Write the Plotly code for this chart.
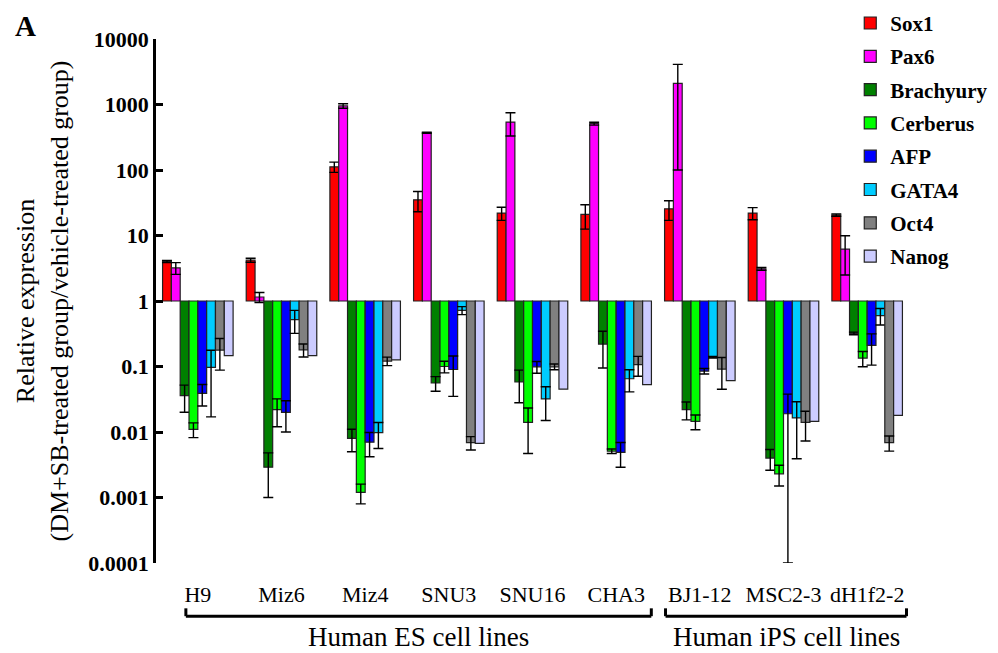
import plotly.graph_objects as go

cell_lines = ["H9", "Miz6", "Miz4", "SNU3", "SNU16", "CHA3", "BJ1-12", "MSC2-3", "dH1f2-2"]
genes = ["Sox1", "Pax6", "Brachyury", "Cerberus", "AFP", "GATA4", "Oct4", "Nanog"]

sox1 = [4.0, 4.2, 112, 35, 22, 21, 25.5, 22, 20.5]
sox1_err = [0.15, 0.3, 20, 12, 5, 8.5, 8.5, 4.6, 0.8]
pax6 = [3.2, 1.15, 950, 370, 540, 510, 2100, 3.1, 6.2]
pax6_err = [0.65, 0.2, 75, 8, 210, 25, 2000, 0.15, 3.7]
brachyury = [0.036, 0.0029, 0.008, 0.056, 0.058, 0.22, 0.022, 0.004, 0.32]
brachyury_err = [0.016, 0.0019, 0.003, 0.014, 0.03, 0.125, 0.0067, 0.0014, 0.015]
cerberus = [0.011, 0.022, 0.0012, 0.1, 0.014, 0.0051, 0.0145, 0.0023, 0.134]
cerberus_err = [0.0028, 0.01, 0.0004, 0.02, 0.0093, 0.0004, 0.0037, 0.0008, 0.035]
afp = [0.039, 0.02, 0.007, 0.09, 0.099, 0.0049, 0.085, 0.019, 0.21]
afp_err = [0.014, 0.01, 0.0028, 0.055, 0.02, 0.002, 0.008, 0.0189, 0.105]
gata4 = [0.097, 0.52, 0.0098, 0.72, 0.032, 0.065, 0.138, 0.0164, 0.6]
gata4_err = [0.08, 0.2, 0.0042, 0.1, 0.017, 0.024, 0.004, 0.0125, 0.17]
oct4 = [0.178, 0.18, 0.121, 0.0069, 0.099, 0.107, 0.091, 0.014, 0.0069]
oct4_err = [0.09, 0.04, 0.018, 0.0016, 0.01, 0.036, 0.046, 0.0067, 0.0018]
nanog = [0.147, 0.147, 0.126, 0.0067, 0.045, 0.053, 0.061, 0.0145, 0.018]
nanog_err = None

tick_vals = [0.0001, 0.001, 0.01, 0.1, 1, 10, 100, 1000, 10000]
tick_text = ["0.0001", "0.001", "0.01", "0.1", "1", "10", "100", "1000", "10000"]

groups = [("Human ES cell lines", 0, 5), ("Human iPS cell lines", 6, 8)]

series = [sox1, pax6, brachyury, cerberus, afp, gata4, oct4, nanog]
errors = [sox1_err, pax6_err, brachyury_err, cerberus_err, afp_err, gata4_err, oct4_err, nanog_err]
colors = ["#FF0000", "#FF00FF", "#008000", "#00FF00", "#0000FF", "#00CCFF", "#808080", "#CCCCFF"]

FONT = "Liberation Serif, Times New Roman, serif"
BASE = 1.0

fig = go.Figure()
for name, vals, err, col in zip(genes, series, errors, colors):
    ey = dict(visible=False)
    if err is not None:
        ey = dict(type="data", array=err, symmetric=True, color="black",
                  thickness=1.4, width=5, visible=True)
    fig.add_trace(go.Bar(
        name="<b>" + name + "</b>", legendgroup=name,
        x=cell_lines, y=[v - BASE for v in vals], base=BASE,
        marker=dict(color=col, line=dict(color="#222222", width=1.2)),
        error_y=ey,
    ))

# page body has an 8px margin; the figure is sized to fill the rest of the window
fig.update_layout(
    width=990, height=645,
    margin=dict(l=148, r=89, t=31, b=90, autoexpand=False),
    paper_bgcolor="white", plot_bgcolor="white",
    barmode="group", bargap=0.157, bargroupgap=0,
    font=dict(family=FONT, color="black"),
    showlegend=True,
    legend=dict(x=0.922, y=1.069, xanchor="left", yanchor="top",
                font=dict(family=FONT, size=21),
                tracegroupgap=3, bgcolor="rgba(0,0,0,0)", itemwidth=30),
    xaxis=dict(type="category", range=[-0.5, 8.5], showline=False, ticks="",
               showgrid=False, zeroline=False,
               tickfont=dict(family=FONT, size=22), ticklabelstandoff=16),
    yaxis=dict(type="log", range=[-4, 4], tickvals=tick_vals,
               ticktext=["<b>" + t + "</b>" for t in tick_text],
               showline=True, linecolor="black", linewidth=2.5,
               ticks="inside", ticklen=7, tickwidth=2.5, tickcolor="black",
               showgrid=False, zeroline=False,
               tickfont=dict(family=FONT, size=22),
               title=dict(text="Relative expression<br>(DM+SB-treated group/vehicle-treated group)",
                          font=dict(family=FONT, size=26), standoff=13)),
)

# group brackets and labels below the category labels
for label, i0, i1 in groups:
    x0, x1 = i0 - 0.143, i1 + 0.42
    if i0 > 0:
        x0 = i0 - 0.41
        x1 = i1 + 0.47
    yl, yt = -0.1015, -0.0865
    line = dict(color="black", width=3)
    fig.add_shape(type="line", xref="x", yref="paper", x0=x0, x1=x1, y0=yl, y1=yl, line=line)
    fig.add_shape(type="line", xref="x", yref="paper", x0=x0, x1=x0, y0=yl, y1=yt, line=line)
    fig.add_shape(type="line", xref="x", yref="paper", x0=x1, x1=x1, y0=yl, y1=yt, line=line)
    fig.add_annotation(text=label, xref="x", yref="paper", x=(x0 + x1) / 2, y=-0.141,
                       xanchor="center", yanchor="middle", showarrow=False,
                       font=dict(family=FONT, size=27))

fig.add_annotation(text="<b>A</b>", xref="paper", yref="paper", x=-0.19, y=1.0592,
                   xanchor="left", yanchor="top", showarrow=False,
                   font=dict(family=FONT, size=29))

fig.write_html("out.html")
